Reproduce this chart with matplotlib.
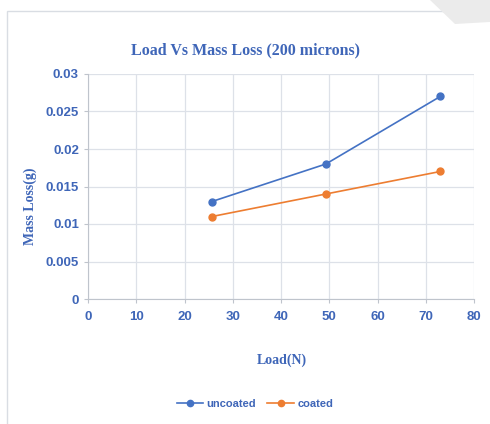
import numpy as np
import matplotlib.pyplot as plt
from matplotlib.patches import Rectangle, Polygon

# data
load = [25.7, 49.3, 73.0]
uncoated = [0.013, 0.018, 0.027]
coated = [0.011, 0.014, 0.017]
x_ticks = [0, 10, 20, 30, 40, 50, 60, 70, 80]
y_ticks = [0, 0.005, 0.01, 0.015, 0.02, 0.025, 0.03]
y_tick_labels = ['0', '0.005', '0.01', '0.015', '0.02', '0.025', '0.03']

blue = '#4472C4'
orange = '#ED7D31'
text_blue = '#3F66B8'

fig = plt.figure(figsize=(4.9, 4.24), dpi=100)

# outer chart frame and faint watermark
fig.patches.append(Rectangle((7/490, -0.05), 1.2, 1 - 11/424 + 0.05, transform=fig.transFigure,
                             fill=False, edgecolor='#D9DDE3', linewidth=1.0))
fig.patches.append(Polygon([(430/490, 1), (490/490, 1), (490/490, 1 - 22/424), (455/490, 1 - 24/424)],
                           closed=True, transform=fig.transFigure, facecolor='#EBEBEB',
                           edgecolor='none'))

ax = fig.add_axes([88/490, 1 - 299/424, 386/490, 225/424])

ax.plot(load, uncoated, color=blue, marker='o', markersize=5, linewidth=1.2, label='uncoated')
ax.plot(load, coated, color=orange, marker='o', markersize=5, linewidth=1.2, label='coated')

ax.set_xlim(0, 80)
ax.set_ylim(0, 0.03)
ax.set_xticks(x_ticks)
ax.set_yticks(y_ticks)
ax.set_yticklabels(y_tick_labels)
ax.grid(True, color='#DDE1E8', linewidth=0.9)
ax.set_axisbelow(True)

for s in ['top', 'right']:
    ax.spines[s].set_visible(False)
for s in ['left', 'bottom']:
    ax.spines[s].set_color('#BFC4CC')
ax.tick_params(colors='#BFC4CC', length=3)
ax.tick_params(axis='x', pad=6)
for lab in ax.get_xticklabels() + ax.get_yticklabels():
    lab.set_color(text_blue)
    lab.set_fontweight('bold')
    lab.set_family('Liberation Sans')
    lab.set_fontsize(9.5)

fig.text(245/490, 1 - 50/424, 'Load Vs Mass Loss (200 microns)', ha='center', va='center',
         fontsize=11.5, fontweight='bold', family='Liberation Serif', color=text_blue)
fig.text(282/490, 1 - 360/424, 'Load(N)', ha='center', va='center',
         fontsize=10, fontweight='bold', family='Liberation Serif', color=text_blue)
fig.text(30/490, 1 - 206/424, 'Mass Loss(g)', ha='center', va='center', rotation=90,
         fontsize=10, fontweight='bold', family='Liberation Serif', color=text_blue)

leg = fig.legend(loc='center', bbox_to_anchor=(255/490, 1 - 404/424), ncol=2, frameon=False,
                 handlelength=2.4, columnspacing=1.0, handletextpad=0.3, markerscale=0.9,
                 prop={'family': 'Liberation Sans', 'weight': 'bold', 'size': 8})
for t in leg.get_texts():
    t.set_color(text_blue)

fig.savefig('out.png', dpi=100)
